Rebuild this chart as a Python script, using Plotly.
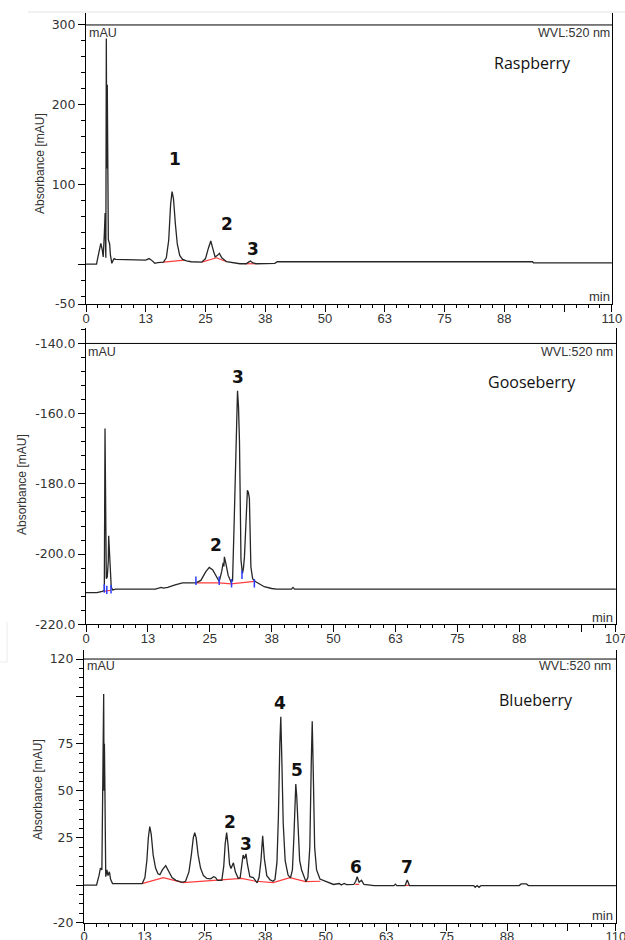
import plotly.graph_objects as go

# ---------------- data ----------------
# Raspberry chromatogram (time [min], absorbance [mAU])
rasp_t = [0, 2.2, 2.6, 2.9, 3.1, 3.4, 3.6, 3.85, 4.0, 4.1, 4.15, 4.25, 4.35, 4.45, 4.55, 4.67, 4.8, 4.95,
          5.1, 5.4, 5.7, 5.9, 6.2, 9.0, 12.5, 13.2, 13.7, 14.4, 15.0, 16.2, 16.8, 17.3, 17.7, 18.0, 18.3,
          18.7, 19.1, 19.6, 20.2, 21.0, 22.0, 24.2, 25.0, 25.6, 26.1, 26.5, 27.0, 27.5, 27.9, 28.4, 29.4,
          32.2, 33.5, 34.0, 34.4, 34.9, 35.6, 39.5, 40.0, 93.4, 93.6, 110]
rasp_v = [0, 0, 12, 22, 26, 18, 9, 40, 64, 20, 8, 283, 120, 225, 110, 31, 28, 25,
          12, 1, 5, 7, 6, 5.5, 5, 7, 5, 1, 2, 2.5, 8, 30, 75, 91, 82,
          50, 25, 11, 6, 4, 3, 2.5, 7, 20, 29, 20, 9, 11, 13.5, 8, 3,
          0.5, 0.5, 2.5, 4, 1.5, 0.5, 1, 3, 3, 1.5, 1.5]
rasp_base = [([16.2, 20.6], [2.5, 5]), ([24.2, 27.3, 29.4], [2.5, 8, 3]), ([33.3, 35.6], [0.5, 0.5])]
rasp_labels = ["1", "2", "3"]
rasp_label_t = [18.6, 29.5, 34.9]
rasp_label_v = [132, 50, 19]

# Gooseberry chromatogram
goose_t = [0, 2.2, 3.3, 3.7, 3.84, 3.95, 4.1, 4.3, 4.5, 4.58, 4.7, 4.85, 4.95, 5.1, 5.4, 6.0, 14.0, 15.2,
           15.6, 16.5, 18.0, 19.5, 22.2, 23.2, 24.2, 24.9, 25.6, 26.4, 26.9, 27.4, 27.7, 27.85, 27.95,
           28.3, 28.7, 29.3, 29.6, 29.9, 30.2, 30.45, 30.6, 30.8, 31.0, 31.15, 31.3, 31.6, 31.8, 32.0,
           32.3, 32.6, 32.8, 33.0, 33.3, 33.65, 34.2, 35.0, 36.0, 37.5, 38.5, 41.5, 41.8, 42.1, 107]
goose_v = [-211, -211, -210.6, -210.3, -164.2, -205, -207, -206.5, -202, -194.8, -199.5, -200, -207,
           -209.5, -210.2, -210, -210, -209.5, -209.7, -209.5, -208.8, -208.2, -208.2, -207.5, -205,
           -203.8, -204.5, -206.5, -207.8, -205, -202.5, -203.5, -200.8, -203, -206, -208, -207.5,
           -192.2, -175, -158, -153.5, -158, -168, -185, -201.7, -205.5, -204, -200.8, -189.8, -181.8,
           -182.5, -184.1, -203.6, -207, -207.8, -208.5, -209.3, -209.8, -210, -210, -209.5, -210, -210]
goose_base = [([3.6, 5.0], [-210.6, -210.3]),
              ([22.2, 26.9, 29.3, 31.6, 34.0], [-208.2, -208.2, -208.5, -208.2, -207.8])]
goose_marks_t = [3.7, 4.2, 5.05, 22.2, 26.9, 29.4, 31.5, 34.0]
goose_marks_v = [-209.8, -210.2, -210.0, -207.6, -207.6, -208.3, -205.9, -208.3]
goose_labels = ["2", "3"]
goose_label_t = [26.3, 30.6]
goose_label_v = [-197.4, -149.5]

# Blueberry chromatogram
blue_t = [0, 2.6, 3.1, 3.4, 3.7, 3.95, 4.07, 4.15, 4.22, 4.3, 4.4, 4.5, 4.75, 4.95, 5.25, 5.5, 5.9,
          12.05, 12.6, 13.0, 13.3, 13.6, 13.9, 14.3, 14.8, 15.3, 15.7, 16.2, 16.9, 17.5, 18.2, 19.0,
          20.3, 21.0, 21.7, 22.2, 22.6, 22.9, 23.2, 23.6, 24.1, 24.7, 25.4, 26.2, 26.8, 27.2, 27.6,
          28.5, 28.9, 29.2, 29.5, 29.8, 30.1, 30.4, 30.9, 31.3, 31.9,
          32.3, 32.6, 32.9, 33.2, 33.5, 33.8, 34.3, 35.0, 35.8,
          36.2, 36.6, 36.95, 37.3, 37.8, 38.5, 39.1,
          39.5, 39.9, 40.2, 40.5, 40.7, 40.9, 41.2, 41.6, 42.2, 42.7,
          43.1, 43.4, 43.8, 44.0, 44.3, 44.6, 45.0, 45.9,
          46.3, 46.7, 47.0, 47.2, 47.45, 47.7, 48.1, 48.8, 50.0, 51.6,
          52.8, 53.2, 53.8, 54.3, 55.8, 56.2, 56.5, 56.9, 57.4, 57.9, 60.0, 64.1, 64.4, 64.7,
          66.4, 66.85, 67.3, 80.6, 80.9, 81.3, 81.7, 82.1, 90.0, 90.4, 91.5, 91.9, 110]
blue_v = [0, 0, 5, 9, 8, 60, 101.4, 50, 75, 57.5, 30, 4.4, 8, 5, 7, 3, 0.8,
          0.8, 4, 13, 25, 31, 27, 16, 9, 6, 5.5, 8, 10.3, 7.5, 4, 2.5,
          1.4, 2, 7, 16, 25, 27.8, 25, 16, 9, 5, 3.5, 3.3, 4.4, 4, 2.5,
          2.5, 10, 22, 27.8, 21, 11, 8.8, 11.8, 7, 3.5,
          4, 9, 15.9, 14, 16.5, 11, 4.4, 4, 1.2,
          4, 13, 26.1, 14, 5, 2.7, 2,
          3, 12, 36, 75, 89.4, 68, 32.7, 13, 5.3, 3.8,
          8, 25, 53.6, 46.9, 25, 13, 8, 1.8,
          4, 20, 65, 87, 55, 20, 8, 3.2, 2, 0.3,
          0.8, 0, 0.8, 0.2, 0.3, 2, 4.4, 1.5, 2.5, 0.3, -0.3, -0.3, 0.5, -0.3,
          -0.3, 2.7, -0.3, -0.3, -1.2, -0.3, -1.2, -0.3, -0.3, 0.6, 0.6, -0.3, -0.3]
blue_base = [([12.2, 16.4, 20.5, 28.1, 32.6, 35.5, 39.1, 42.6, 45.8, 48.9],
              [0.9, 3.9, 1.3, 2.7, 3.5, 2.0, 1.3, 3.9, 1.8, 2.0]),
             ([56.1, 56.9], [0.4, 0.4]), ([66.5, 67.2], [-0.2, -0.2])]
blue_labels = ["2", "3", "4", "5", "6", "7"]
blue_label_t = [30.1, 33.6, 40.5, 44.1, 56.2, 66.8]
blue_label_v = [33.6, 21.8, 96.8, 61.1, 9.7, 9.7]

# axis ticks
x_tickvals = [0, 12.5, 25, 37.5, 50, 62.5, 75, 87.5, 100, 110]
x_ticktext = ["0", "13", "25", "38", "50", "63", "75", "88", "", "110"]
x2_tickvals = [0, 12.5, 25, 37.5, 50, 62.5, 75, 87.5, 100, 107]
x2_ticktext = ["0", "13", "25", "38", "50", "63", "75", "88", "", "107"]
y1_tickvals = [300, 200, 100, 0, -50]
y1_ticktext = ["300", "200", "100", "", "-50"]
y2_tickvals = [-140, -160, -180, -200, -220]
y2_ticktext = ["-140.0", "-160.0", "-180.0", "-200.0", "-220.0"]
y3_tickvals = [120, 100, 75, 50, 25, 0, -20]
y3_ticktext = ["120", "", "75", "50", "25", "", "-20"]

names = ["Raspberry", "Gooseberry", "Blueberry"]

# ---------------- layout helpers (pixel geometry) ----------------
W, H = 625, 940


def px(x):
    return x / W


def py(y):
    return 1 - y / H


TRACE = "#262626"
RED = "#ff3c3c"
TXT = "#333333"

# panel geometry: (left, right, top, bottom) in pixels
geo = [(86, 612, 13, 304), (86, 616, 328, 624.3), (84, 616, 650, 922.7)]
xranges = [[0, 110.02], [0, 107.04], [0, 110.02]]
yranges = [[-50, 315], [-220, -135.6], [-20, 124.8]]
ytops = [300, -140, 120]

fig = go.Figure()

series = [(rasp_t, rasp_v, rasp_base), (goose_t, goose_v, goose_base), (blue_t, blue_v, blue_base)]
for i, (t, v, bases) in enumerate(series):
    xa = "x" if i == 0 else f"x{i+1}"
    ya = "y" if i == 0 else f"y{i+1}"
    for bt, bv in bases:
        fig.add_trace(go.Scatter(x=bt, y=bv, mode="lines", line=dict(color=RED, width=1.2),
                                 xaxis=xa, yaxis=ya, showlegend=False, hoverinfo="skip"))
    fig.add_trace(go.Scatter(x=t, y=v, mode="lines", line=dict(color=TRACE, width=1.3),
                             xaxis=xa, yaxis=ya, showlegend=False))

fig.add_trace(go.Scatter(x=goose_marks_t, y=goose_marks_v, mode="markers",
                         marker=dict(symbol="line-ns", size=6, line=dict(color="#2b3cff", width=1.5)),
                         xaxis="x2", yaxis="y2", showlegend=False, hoverinfo="skip"))

xt = [(x_tickvals, x_ticktext), (x2_tickvals, x2_ticktext), (x_tickvals, x_ticktext)]
yt = [(y1_tickvals, y1_ticktext, 20), (y2_tickvals, y2_ticktext, 4), (y3_tickvals, y3_ticktext, 5)]

layout = dict(width=W, height=H, autosize=False, margin=dict(l=0, r=0, t=0, b=0),
              paper_bgcolor="white", plot_bgcolor="white", showlegend=False)

for i in range(3):
    l, r, top, bot = geo[i]
    xk = "xaxis" if i == 0 else f"xaxis{i+1}"
    yk = "yaxis" if i == 0 else f"yaxis{i+1}"
    ya = "y" if i == 0 else f"y{i+1}"
    xa = "x" if i == 0 else f"x{i+1}"
    layout[xk] = dict(domain=[px(l), px(r)], anchor=ya, range=xranges[i], tickmode="array",
                      tickvals=xt[i][0], ticktext=xt[i][1], ticks="outside", ticklen=7,
                      ticklabelstandoff=-5, ticklabeloverflow="allow",
                      tickcolor="black", showline=True, linecolor="black", linewidth=1,
                      showgrid=False, zeroline=False, automargin=False,
                      tickfont=dict(family="Liberation Sans", size=13, color=TXT),
                      minor=dict(ticks="outside", ticklen=3, dtick=2.5, tick0=0, tickcolor="black"))
    layout[yk] = dict(domain=[py(bot), py(top)], anchor=xa, range=yranges[i], tickmode="array",
                      tickvals=yt[i][0], ticktext=yt[i][1], ticks="outside", ticklen=7,
                      ticklabeloverflow="allow",
                      tickcolor="black", showline=True, linecolor="black", linewidth=1, mirror=True,
                      showgrid=False, zeroline=False, automargin=False,
                      tickfont=dict(family="DejaVu Sans", size=12.5, color=TXT),
                      minor=dict(ticks="outside", ticklen=4, dtick=yt[i][2], tick0=0, tickcolor="black"))

fig.update_layout(**layout)

shapes = []
for i in range(3):
    xa = "x" if i == 0 else f"x{i+1}"
    ya = "y" if i == 0 else f"y{i+1}"
    shapes.append(dict(type="line", xref=f"{xa} domain", yref=ya, x0=0, x1=1, y0=ytops[i], y1=ytops[i],
                       line=dict(color="black", width=1)))
# faint borders of the pasted screenshots
shapes.append(dict(type="line", xref="paper", yref="paper", x0=px(28), x1=1, y0=py(12), y1=py(12),
                   line=dict(color="#e3e3e3", width=1)))
shapes.append(dict(type="line", xref="paper", yref="paper", x0=px(7), x1=px(7), y0=py(622), y1=py(662),
                   line=dict(color="#ececec", width=1)))
shapes.append(dict(type="line", xref="paper", yref="paper", x0=0, x1=px(7), y0=py(662), y1=py(662),
                   line=dict(color="#ececec", width=1)))
fig.update_layout(shapes=shapes)

ann = []


def ptext(text, x, y, size, family, xanchor="center", color=TXT, angle=0):
    ann.append(dict(text=text, x=px(x), y=py(y), xref="paper", yref="paper", showarrow=False,
                    xanchor=xanchor, yanchor="middle", textangle=angle,
                    font=dict(family=family, size=size, color=color)))


# per-panel texts
mau_pos = [(87, 33), (86, 352), (85, 666)]
wvl_pos = [(612, 33), (615, 352), (613, 666)]
min_pos = [(612, 296), (615, 617), (615, 915)]
title_pos = [(532, 63), (532, 382), (536, 700)]
ylab_pos = [(40, 164), (22, 485), (38, 790)]
for i in range(3):
    ptext("mAU", *mau_pos[i], 12.5, "Liberation Sans", xanchor="left")
    ptext("WVL:520 nm", *wvl_pos[i], 12.5, "Liberation Sans", xanchor="right")
    ptext("min", *min_pos[i], 13, "Liberation Sans", xanchor="right")
    ptext(names[i], *title_pos[i], 16, "Open Sans", color="#111111")
    ptext("Absorbance [mAU]", *ylab_pos[i], 12, "Liberation Sans", angle=-90)

labels = [(rasp_labels, rasp_label_t, rasp_label_v), (goose_labels, goose_label_t, goose_label_v),
          (blue_labels, blue_label_t, blue_label_v)]
for i, (txts, ts, vs) in enumerate(labels):
    xa = "x" if i == 0 else f"x{i+1}"
    ya = "y" if i == 0 else f"y{i+1}"
    for s, t, v in zip(txts, ts, vs):
        ann.append(dict(text=f"<b>{s}</b>", x=t, y=v, xref=xa, yref=ya, showarrow=False,
                        xanchor="center", yanchor="middle",
                        font=dict(family="DejaVu Sans", size=17, color="#111111")))

fig.update_layout(annotations=ann)
fig.write_html("out.html", config={"displayModeBar": False})

# remove the default page margin so the figure sits at the window's top-left corner
with open("out.html", encoding="utf-8") as f:
    html = f.read()
html = html.replace("<head>", "<head><style>html,body{margin:0;padding:0;overflow:hidden;}</style>", 1)
with open("out.html", "w", encoding="utf-8") as f:
    f.write(html)
